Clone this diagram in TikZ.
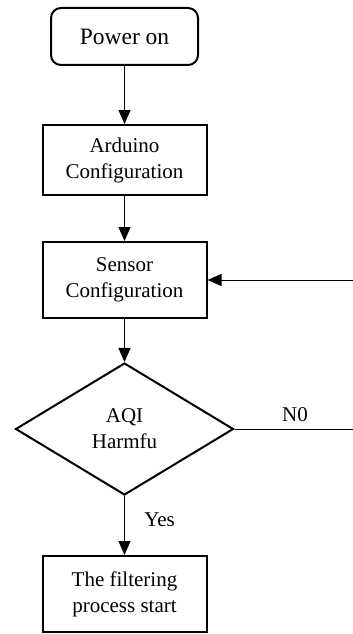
\documentclass[tikz,border=0pt]{standalone}
\usepackage{fontspec}
\setmainfont{Liberation Serif}
\usetikzlibrary{positioning, arrows.meta, shapes.geometric}

\begin{document}
\begin{tikzpicture}[
    x=1pt, y=1pt,
    font=\fontsize{21}{26}\selectfont,
    box/.style={rectangle, draw, line width=2pt, minimum width=164pt, align=center},
    start/.style={rectangle, rounded corners=10pt, draw, line width=2pt, minimum width=147pt, minimum height=57pt, align=center, font=\fontsize{23.5}{28}\selectfont},
    decision/.style={diamond, draw, line width=2pt, minimum width=218pt, minimum height=132pt, align=center, inner sep=0pt},
    arrow/.style={-{Triangle[length=14pt, width=12pt]}, line width=1pt}
]
    \useasboundingbox (0,0) rectangle (353,-634);
    % Main flow - top to bottom
    \node[start] (power) at (124.5,-36.5) {Power on};
    \node[box, minimum height=70pt, below=58pt of power] (arduino) {Arduino\\Configuration};
    \node[box, minimum height=76pt, below=45pt of arduino] (sensor) {Sensor\\Configuration};
    \node[decision, below=43pt of sensor] (aqi) {AQI\\Harmfu};
    \node[box, minimum height=76pt, below=59pt of aqi] (filter) {The filtering\\process start};
    % Loose ends at the right edge
    \path (sensor.east) ++(146,0) coordinate (loop);
    \path (aqi.east) ++(121,0) coordinate (noend);
    % Arrows
    \draw[arrow] (power) -- (arduino);
    \draw[arrow] (arduino) -- (sensor);
    \draw[arrow] (sensor) -- (aqi);
    \draw[arrow] (aqi) -- node[pos=0.4, right=16pt] {Yes} (filter);
    \draw[line width=1pt] (aqi) -- node[above, yshift=3pt] {N0} (noend);
    \draw[arrow] (loop) -- (sensor);
\end{tikzpicture}
\end{document}
